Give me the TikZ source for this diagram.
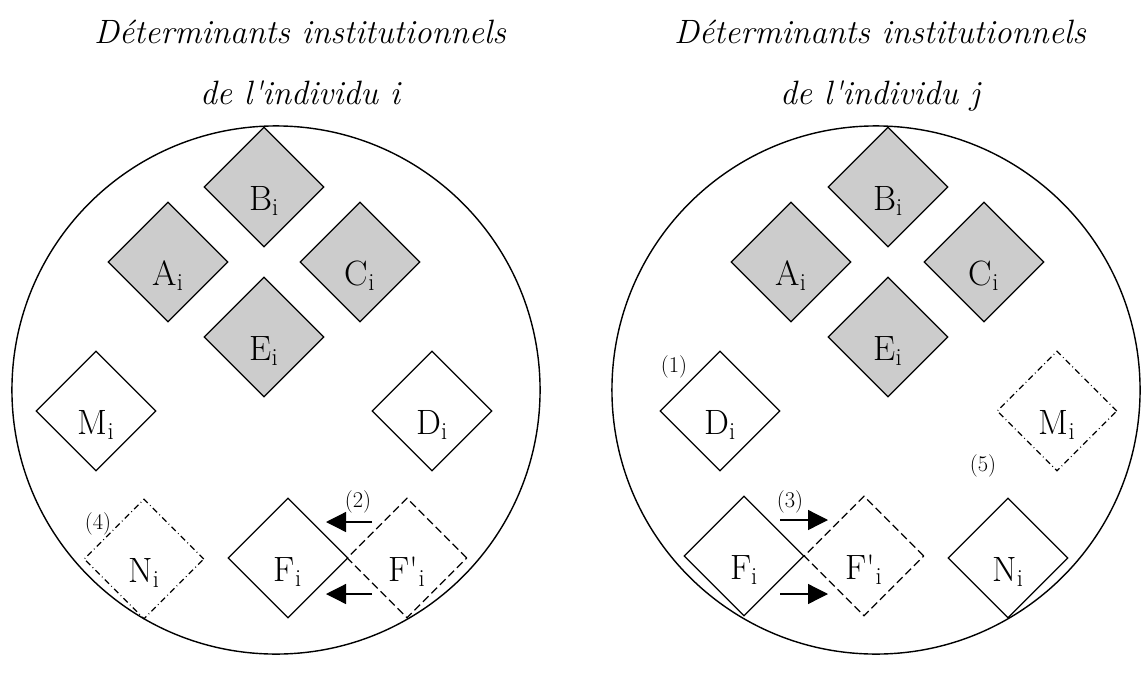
\documentclass[tikz,border=0pt]{standalone}
\usetikzlibrary{shapes.geometric, arrows.meta}
\begin{document}
\begin{tikzpicture}[x=0.025cm, y=-0.025cm,
  ring/.style={circle, draw, line width=1pt, minimum size=13.2cm, inner sep=0pt},
  cell/.style={shape=diamond, draw, line width=0.9pt, minimum width=3cm, minimum height=3cm, inner sep=0pt, text height=1.15cm, text depth=0pt, font=\fontsize{25}{29}\selectfont},
  core/.style={cell, fill=black!20},
  moved/.style={cell, dash pattern=on 0.2cm off 0.1cm},
  spare/.style={cell, dash pattern=on 0.15cm off 0.08cm on 0.02cm off 0.08cm},
  tag/.style={font=\fontsize{16}{19}\selectfont, inner sep=0pt},
  head/.style={font=\itshape\fontsize{24}{28}\selectfont, anchor=base},
  push/.style={-{Triangle[length=0.5cm, width=0.5cm]}, line width=0.9pt}]
  \useasboundingbox (0,0) rectangle (1141,690);

  % titles
  \node[head] (toti) at (300,44)  {Déterminants institutionnels};
  \node[head] (subi) at (300,104) {de l\textquotesingle individu i};
  \node[head] (totj) at (880,44)  {Déterminants institutionnels};
  \node[head] (subj) at (880,104) {de l\textquotesingle individu j};

  \node[ring] (ringi) at (276,390) {};
  \node[ring] (ringj) at (876,390) {};

  % individu i
  \node[core]  (Ai)  at (168,262) {A\textsubscript{i}};
  \node[core]  (Bi)  at (264,187) {B\textsubscript{i}};
  \node[core]  (Ci)  at (360,262) {C\textsubscript{i}};
  \node[core]  (Ei)  at (264,337) {E\textsubscript{i}};
  \node[cell]  (Mi)  at (96,411)  {M\textsubscript{i}};
  \node[cell]  (Di)  at (432,411) {D\textsubscript{i}};
  \node[spare] (Ni)  at (144,559) {N\textsubscript{i}};
  \node[cell]  (Fi)  at (288,558) {F\textsubscript{i}};
  \node[moved] (Fpi) at (407,558) {F\textquotesingle\textsubscript{i}};
  \node[tag] (t4) at (98,524)  {(4)};
  \node[tag] (t2) at (358,502) {(2)};
  \coordinate (ai1) at (372,522);
  \coordinate (bi1) at (326,522);
  \coordinate (ai2) at (372,594);
  \coordinate (bi2) at (326,594);
  \draw[push] (ai1) -- (bi1);
  \draw[push] (ai2) -- (bi2);

  % individu j
  \node[core]  (Aj)  at (791,262)  {A\textsubscript{i}};
  \node[core]  (Bj)  at (888,187)  {B\textsubscript{i}};
  \node[core]  (Cj)  at (984,262)  {C\textsubscript{i}};
  \node[core]  (Ej)  at (888,337)  {E\textsubscript{i}};
  \node[cell]  (Dj)  at (720,411)  {D\textsubscript{i}};
  \node[spare] (Mj)  at (1057,411) {M\textsubscript{i}};
  \node[cell]  (Fj)  at (744,556)  {F\textsubscript{i}};
  \node[moved] (Fpj) at (864,556)  {F\textquotesingle\textsubscript{i}};
  \node[cell]  (Nj)  at (1008,558) {N\textsubscript{i}};
  \node[tag] (t1) at (674,367) {(1)};
  \node[tag] (t3) at (790,502) {(3)};
  \node[tag] (t5) at (983,466) {(5)};
  \coordinate (aj1) at (780,520);
  \coordinate (bj1) at (828,520);
  \coordinate (aj2) at (780,594);
  \coordinate (bj2) at (828,594);
  \draw[push] (aj1) -- (bj1);
  \draw[push] (aj2) -- (bj2);
\end{tikzpicture}
\end{document}
